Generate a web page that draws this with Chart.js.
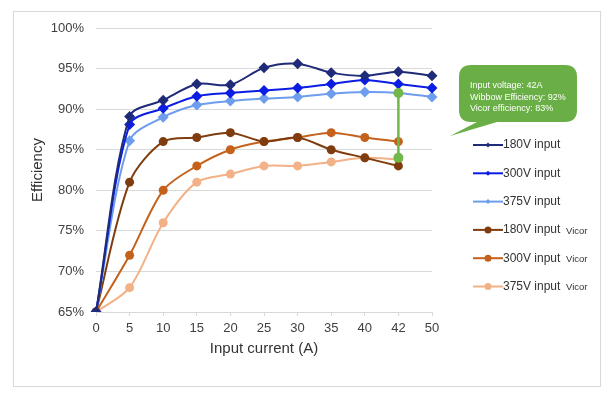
<!DOCTYPE html>
<html>
<head>
<meta charset="utf-8">
<script src="https://cdn.jsdelivr.net/npm/chart.js@4"></script>
<style>
  html, body { margin: 0; padding: 0; background: #fff; }
  #wrap { width: 610px; height: 396px; position: relative; }
</style>
</head>
<body>
<div id="wrap"><canvas id="grafico" width="610" height="396"></canvas></div>
<script>
// eixo X (corrente de entrada, A)
const correntes = ["0", "5", "10", "15", "20", "25", "30", "35", "40", "42", "50"];

// eficiências (%)
const wibbow180 = [65, 89.1, 91.1, 93.1, 93, 95.1, 95.6, 94.5, 94.1, 94.6, 94.1];
const wibbow300 = [65, 88.1, 90.1, 91.6, 92, 92.3, 92.6, 93.1, 93.6, 93.1, 92.6];
const wibbow375 = [65, 86.1, 89, 90.5, 91, 91.3, 91.5, 91.9, 92.1, 92, 91.5];
const vicor180 = [65, 81, 86, 86.5, 87.1, 86, 86.5, 85, 84, 83];
const vicor300 = [65, 72, 80, 83, 85, 86, 86.5, 87.1, 86.5, 86];
const vicor375 = [65, 68, 76, 81, 82, 83, 83, 83.5, 84, 83.8];

// marcador verde em 42 A
const marcador42 = [92, 84];

const rotulos = ["180V input", "300V input", "375V input", "180V input", "300V input", "375V input"];
const sufixos = ["", "", "", "Vicor", "Vicor", "Vicor"];
const cores = ["#1f2b78", "#0b1de3", "#6e9ded", "#7f3d0f", "#c4611b", "#f2b186"];
const textoBalao = ["Input voltage: 42A", "Wibbow Efficiency: 92%", "Vicor efficiency: 83%"];

const FONTE = "'Liberation Sans', Arial, sans-serif";

function serie(i, dados, estilo) {
  return {
    label: rotulos[i],
    data: dados,
    borderColor: cores[i],
    backgroundColor: cores[i],
    pointStyle: estilo,
    pointRadius: estilo === "rectRot" ? 5.5 : 4.5,
    pointBorderWidth: 0,
    borderWidth: 2,
    tension: 0.3,
  };
}

const molduraPlugin = {
  id: "moldura",
  beforeDraw(chart) {
    const ctx = chart.ctx;
    ctx.save();
    ctx.fillStyle = "#fff";
    ctx.fillRect(0, 0, chart.width, chart.height);
    ctx.strokeStyle = "#d9d9d9";
    ctx.lineWidth = 1;
    ctx.strokeRect(13.5, 11.5, 587, 375);
    ctx.restore();
  },
};

const legendaPlugin = {
  id: "legendaCustom",
  afterDraw(chart) {
    const ctx = chart.ctx;
    ctx.save();
    ctx.textBaseline = "middle";
    for (let i = 0; i < 6; i++) {
      const ds = chart.data.datasets[i];
      const y = 145 + i * 28.3;
      ctx.strokeStyle = ds.borderColor;
      ctx.lineWidth = 2;
      ctx.beginPath();
      ctx.moveTo(473, y);
      ctx.lineTo(503, y);
      ctx.stroke();
      ctx.fillStyle = ds.borderColor;
      ctx.beginPath();
      if (ds.pointStyle === "rectRot") {
        ctx.moveTo(488, y - 2.5);
        ctx.lineTo(490.5, y);
        ctx.lineTo(488, y + 2.5);
        ctx.lineTo(485.5, y);
      } else {
        ctx.arc(488, y, 3.5, 0, Math.PI * 2);
      }
      ctx.fill();
      ctx.fillStyle = "#333";
      ctx.font = "12px " + FONTE;
      ctx.fillText(rotulos[i], 503, y);
      if (sufixos[i]) {
        ctx.font = "9.5px " + FONTE;
        ctx.fillText(sufixos[i], 566, y + 1);
      }
    }
    ctx.restore();
  },
};

const balaoPlugin = {
  id: "balao",
  afterDraw(chart) {
    const ctx = chart.ctx;
    const x = 459, y = 65, w = 118, h = 57, r = 12;
    ctx.save();
    ctx.fillStyle = "#6aaf46";
    ctx.beginPath();
    ctx.moveTo(x + r, y);
    ctx.lineTo(x + w - r, y);
    ctx.quadraticCurveTo(x + w, y, x + w, y + r);
    ctx.lineTo(x + w, y + h - r);
    ctx.quadraticCurveTo(x + w, y + h, x + w - r, y + h);
    ctx.lineTo(x + 38, y + h);
    ctx.lineTo(450, 136);
    ctx.lineTo(x + 18, y + h);
    ctx.lineTo(x + r, y + h);
    ctx.quadraticCurveTo(x, y + h, x, y + h - r);
    ctx.lineTo(x, y + r);
    ctx.quadraticCurveTo(x, y, x + r, y);
    ctx.closePath();
    ctx.fill();
    ctx.fillStyle = "#fff";
    ctx.font = "9px " + FONTE;
    ctx.textBaseline = "middle";
    textoBalao.forEach((t, i) => ctx.fillText(t, 470, 86 + i * 11.5));
    ctx.restore();
  },
};

const ctx = document.getElementById("grafico").getContext("2d");

new Chart(ctx, {
  type: "line",
  data: {
    labels: correntes,
    datasets: [
      serie(0, wibbow180, "rectRot"),
      serie(1, wibbow300, "rectRot"),
      serie(2, wibbow375, "rectRot"),
      serie(3, vicor180, "circle"),
      serie(4, vicor300, "circle"),
      serie(5, vicor375, "circle"),
      {
        label: "",
        data: marcador42.map((v) => ({ x: "42", y: v })),
        borderColor: "#70b847",
        backgroundColor: "#70b847",
        pointRadius: 5,
        pointBorderWidth: 0,
        borderWidth: 2.5,
        tension: 0,
        order: -1,
      },
    ],
  },
  options: {
    responsive: false,
    animation: false,
    layout: { padding: { left: 25, right: 178, top: 28, bottom: 34 } },
    plugins: {
      legend: { display: false },
      tooltip: { enabled: false },
    },
    scales: {
      x: {
        offset: false,
        grid: { drawOnChartArea: false, drawTicks: true, tickLength: 4, color: "#d9d9d9" },
        border: { color: "#d9d9d9" },
        ticks: {
          color: "#404040",
          font: { family: FONTE, size: 13 },
          padding: 5,
          maxRotation: 0,
          autoSkip: false,
        },
        title: {
          display: true,
          text: "Input current (A)",
          color: "#333",
          font: { family: FONTE, size: 15 },
        },
        afterFit(s) { s.height = 50; },
      },
      y: {
        min: 65,
        max: 100,
        grid: { color: "#d9d9d9", drawTicks: false },
        border: { display: false },
        ticks: {
          stepSize: 5,
          color: "#404040",
          font: { family: FONTE, size: 13 },
          padding: 12,
          callback: (v) => v + "%",
        },
        title: {
          display: true,
          text: "Efficiency",
          color: "#333",
          font: { family: FONTE, size: 15 },
        },
        afterFit(s) { s.width = 71; },
      },
    },
  },
  plugins: [molduraPlugin, legendaPlugin, balaoPlugin],
});
</script>
</body>
</html>
